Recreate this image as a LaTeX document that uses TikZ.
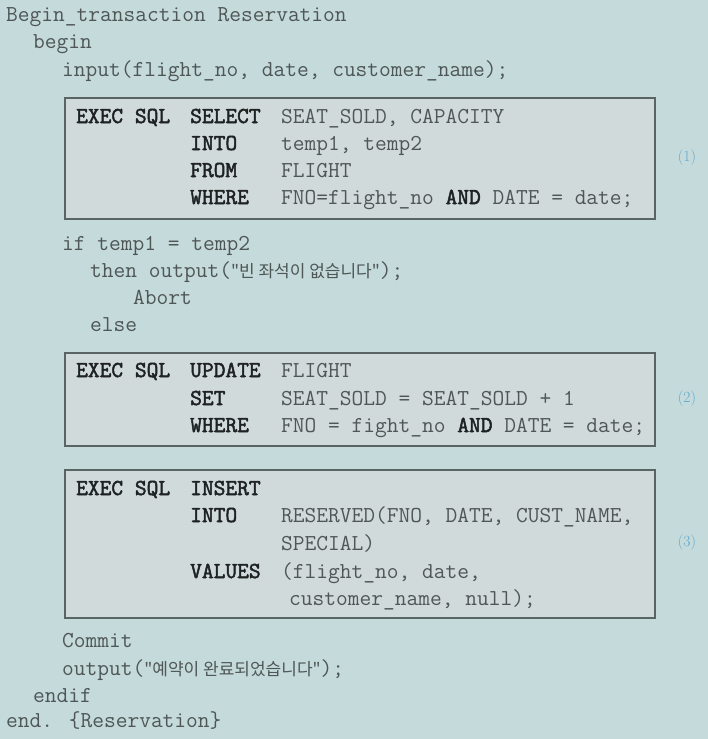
\documentclass[tikz,border=0pt]{standalone}
\usepackage{fontspec}
\newfontfamily\krfont{Noto Sans CJK KR}
\newfontfamily\kwfont[FakeBold=2.2]{Latin Modern Mono}

\definecolor{bgcol}{HTML}{C5DADB}
\definecolor{boxfill}{HTML}{D1DADA}
\definecolor{boxline}{HTML}{5A6464}
\definecolor{codegray}{HTML}{4E5656}
\definecolor{kwblack}{HTML}{1E2222}
\definecolor{tagblue}{HTML}{5FA8CC}

\newcommand{\kr}[1]{{\krfont\fontsize{17}{20}\selectfont #1}}
\newcommand{\kand}{{\color{kwblack}\kwfont AND}}

\begin{document}
\begin{tikzpicture}[x=1pt,y=-1pt,
	code/.style={anchor=base west, inner sep=0pt, text=codegray, font=\fontsize{22.8}{27}\selectfont\ttfamily},
	kw/.style={code, text=kwblack, font=\fontsize{22.8}{27}\selectfont\kwfont},
	sqlbox/.style={draw=boxline, fill=boxfill, line width=1.5pt, anchor=north west, inner sep=0pt, minimum width=590pt},
	tag/.style={text=tagblue, font=\fontsize{15.5}{18}\selectfont}]

		\fill[bgcol] (0,0) rectangle (708,739);
		\useasboundingbox (0,0) rectangle (708,739);

		\foreach \nb/\yt/\bh in {1/97/121, 2/352/93, 3/469/148} {
		    \node (box\nb) [sqlbox, minimum height=\bh pt] at (64,\yt) {};
		    \node (tag\nb) [tag] at (687,\yt+\bh/2) {(\nb)};
		}

		\node (hdr) at (6,21) [code] {Begin\_transaction Reservation};
		\node (beg) at (33,48) [code] {begin};
		\node (inp) at (62,76) [code] {input(flight\_no, date, customer\_name);};

		\node (exec1) at (76,123) [kw] {EXEC SQL};
		\node (sel) at (190,123) [kw] {SELECT};
		\node (selv) at (281,123) [code] {SEAT\_SOLD, CAPACITY};
		\node (into1) at (190,150) [kw] {INTO};
		\node (into1v) at (281,150) [code] {temp1, temp2};
		\node (from) at (190,177) [kw] {FROM};
		\node (fromv) at (281,177) [code] {FLIGHT};
		\node (where1) at (190,204) [kw] {WHERE};
		\node (where1v) at (281,204) [code] {FNO=flight\_no \kand{} DATE = date;};

		\node (iff) at (62,250) [code] {if temp1 = temp2};
		\node (thn) at (90,277) [code] {then output(\kr{"빈 좌석이 없습니다"});};
		\node (abrt) at (133,304) [code] {Abort};
		\node (els) at (90,331) [code] {else};

		\node (exec2) at (76,377) [kw] {EXEC SQL};
		\node (upd) at (190,377) [kw] {UPDATE};
		\node (updv) at (281,377) [code] {FLIGHT};
		\node (set) at (190,405) [kw] {SET};
		\node (setv) at (281,405) [code] {SEAT\_SOLD = SEAT\_SOLD + 1};
		\node (where2) at (190,432) [kw] {WHERE};
		\node (where2v) at (281,432) [code] {FNO = fight\_no \kand{} DATE = date;};

		\node (exec3) at (76,495) [kw] {EXEC SQL};
		\node (ins) at (190,495) [kw] {INSERT};
		\node (into3) at (190,522) [kw] {INTO};
		\node (into3v) at (281,522) [code] {RESERVED(FNO, DATE, CUST\_NAME,};
		\node (into3w) at (281,550) [code] {SPECIAL)};
		\node (vals) at (190,578) [kw] {VALUES};
		\node (valsv) at (281,578) [code] {(flight\_no, date,};
		\node (valsw) at (289,605) [code] {customer\_name, null);};

		\node (cmt) at (62,647) [code] {Commit};
		\node (outp) at (62,675) [code] {output(\kr{"예약이 완료되었습니다"});};
		\node (eif) at (33,702) [code] {endif};
		\node (fin) at (6,727) [code] {end. \{Reservation\}};
	\end{tikzpicture}
\end{document}
